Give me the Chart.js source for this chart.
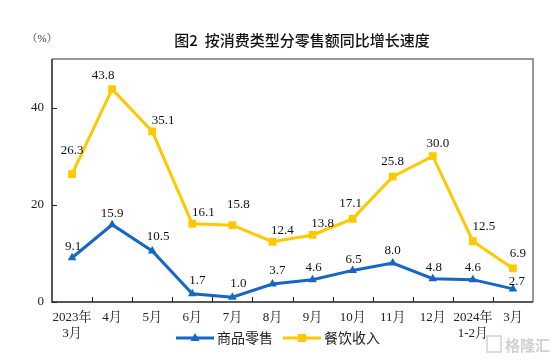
<!DOCTYPE html>
<html>
<head>
<meta charset="utf-8">
<script src="https://cdn.jsdelivr.net/npm/chart.js@4"></script>
<style>
  html, body { margin: 0; padding: 0; background: #fff; }
  #wrap { width: 554px; height: 362px; }
</style>
</head>
<body>
<div id="wrap"><canvas id="chart" width="554" height="362"></canvas></div>
<script>
const months = [["2023年", "3月"], "4月", "5月", "6月", "7月", "8月", "9月", "10月", "11月", "12月", ["2024年", "1-2月"], "3月"];
const goodsRetail = [9.1, 15.9, 10.5, 1.7, 1.0, 3.7, 4.6, 6.5, 8.0, 4.8, 4.6, 2.7];
const cateringIncome = [26.3, 43.8, 35.1, 16.1, 15.8, 12.4, 13.8, 17.1, 25.8, 30.0, 12.5, 6.9];
const yTicks = [0, 20, 40];

const BLUE = "#1466c8";
const YELLOW = "#ffc800";
const SERIF = "'Liberation Serif', 'Times New Roman', 'Noto Serif CJK SC', 'Noto Sans CJK SC', serif";
const CJK = "'Noto Sans CJK SC', sans-serif";

// label nudges (dx, dy of label centre from the point)
const labelShift = [
  [[1, -11], [0, -11], [6, -14], [5, -13], [6, -14], [5, -13], [1, -12], [1, -11], [0, -13], [1, -11], [0, -12], [4, -7]],
  [[0, -24], [-9, -14], [11, -11], [11, -11], [6, -21], [10, -11], [10, -11], [-2, -15], [0, -15], [5, -13], [11, -15], [5, -15]]
];

const decor = {
  id: "decor",
  afterDraw(chart) {
    const ctx = chart.ctx;
    const a = chart.chartArea;
    const x = chart.scales.x;
    const y = chart.scales.y;
    ctx.save();

    // frame: gray top/right, dark left/bottom
    ctx.strokeStyle = "#999";
    ctx.lineWidth = 2;
    ctx.beginPath();
    ctx.moveTo(a.left, a.top);
    ctx.lineTo(a.right, a.top);
    ctx.lineTo(a.right, a.bottom);
    ctx.stroke();
    ctx.strokeStyle = "#222";
    ctx.lineWidth = 1.5;
    ctx.beginPath();
    ctx.moveTo(a.left, a.top);
    ctx.lineTo(a.left, a.bottom);
    ctx.lineTo(a.right, a.bottom);
    ctx.stroke();

    // inward ticks
    ctx.lineWidth = 1;
    ctx.beginPath();
    yTicks.forEach(v => {
      const py = Math.round(y.getPixelForValue(v)) + 0.5;
      ctx.moveTo(a.left, py);
      ctx.lineTo(a.left + 5, py);
    });
    const n = months.length;
    for (let i = 1; i < n; i++) {
      const px = Math.round((x.getPixelForValue(i - 1) + x.getPixelForValue(i)) / 2) + 0.5;
      ctx.moveTo(px, a.bottom);
      ctx.lineTo(px, a.bottom - 5);
    }
    ctx.stroke();

    // data labels
    ctx.fillStyle = "#111";
    ctx.font = "13px " + SERIF;
    ctx.textAlign = "center";
    ctx.textBaseline = "middle";
    chart.data.datasets.forEach((ds, di) => {
      chart.getDatasetMeta(di).data.forEach((pt, i) => {
        const s = labelShift[di][i];
        ctx.fillText(ds.data[i].toFixed(1), pt.x + s[0], pt.y + s[1]);
      });
    });

    // title and unit
    ctx.font = "500 15px " + CJK;
    ctx.fillStyle = "#111";
    ctx.fillText("图2  按消费类型分零售额同比增长速度", 302, 40);
    ctx.font = "11px " + SERIF;
    ctx.fillStyle = "#333";
    ctx.fillText("（%）", 42, 39);

    // legend
    const items = [
      { text: "商品零售", color: BLUE, style: "triangle", x0: 176 },
      { text: "餐饮收入", color: YELLOW, style: "rect", x0: 283 }
    ];
    const ly = 338;
    items.forEach(it => {
      ctx.strokeStyle = it.color;
      ctx.lineWidth = 3;
      ctx.beginPath();
      ctx.moveTo(it.x0, ly);
      ctx.lineTo(it.x0 + 38, ly);
      ctx.stroke();
      ctx.fillStyle = it.color;
      ctx.beginPath();
      if (it.style === "rect") {
        ctx.rect(it.x0 + 15, ly - 4, 8, 8);
      } else {
        ctx.moveTo(it.x0 + 19, ly - 5);
        ctx.lineTo(it.x0 + 23.5, ly + 3);
        ctx.lineTo(it.x0 + 14.5, ly + 3);
        ctx.closePath();
      }
      ctx.fill();
      ctx.fillStyle = "#222";
      ctx.font = "14px " + CJK;
      ctx.textAlign = "left";
      ctx.fillText(it.text, it.x0 + 41, ly);
    });

    // watermark
    ctx.font = "bold 15px " + CJK;
    ctx.fillStyle = "rgba(150,150,150,0.45)";
    ctx.textAlign = "left";
    ctx.fillText("格隆汇", 505, 345);
    ctx.strokeStyle = "rgba(150,150,150,0.45)";
    ctx.lineWidth = 1.5;
    ctx.strokeRect(487, 336, 14, 16);
    ctx.restore();
  }
};

new Chart(document.getElementById("chart").getContext("2d"), {
  type: "line",
  data: {
    labels: months,
    datasets: [
      {
        label: "商品零售",
        data: goodsRetail,
        borderColor: BLUE,
        backgroundColor: BLUE,
        borderWidth: 3,
        pointStyle: "triangle",
        pointRadius: 5,
        pointBorderWidth: 0,
        tension: 0
      },
      {
        label: "餐饮收入",
        data: cateringIncome,
        borderColor: YELLOW,
        backgroundColor: YELLOW,
        borderWidth: 3,
        pointStyle: "rect",
        pointRadius: 5.5,
        pointBorderWidth: 0,
        tension: 0
      }
    ]
  },
  options: {
    responsive: false,
    animation: false,
    layout: { padding: { left: 0, right: 21, top: 59, bottom: 0 } },
    plugins: {
      legend: { display: false },
      title: { display: false },
      tooltip: { enabled: false }
    },
    scales: {
      x: {
        type: "category",
        offset: true,
        grid: { display: false, drawTicks: false },
        border: { display: false },
        ticks: {
          color: "#222",
          font: { family: SERIF, size: 13 },
          padding: 8,
          maxRotation: 0,
          autoSkip: false
        },
        afterFit(s) { s.height = 60; }
      },
      y: {
        min: 0,
        max: 50,
        grid: { display: false, drawTicks: false },
        border: { display: false },
        ticks: {
          color: "#222",
          font: { family: SERIF, size: 13 },
          padding: 8
        },
        afterBuildTicks(s) { s.ticks = yTicks.map(v => ({ value: v })); },
        afterFit(s) { s.width = 52; }
      }
    }
  },
  plugins: [decor]
});
</script>
</body>
</html>
